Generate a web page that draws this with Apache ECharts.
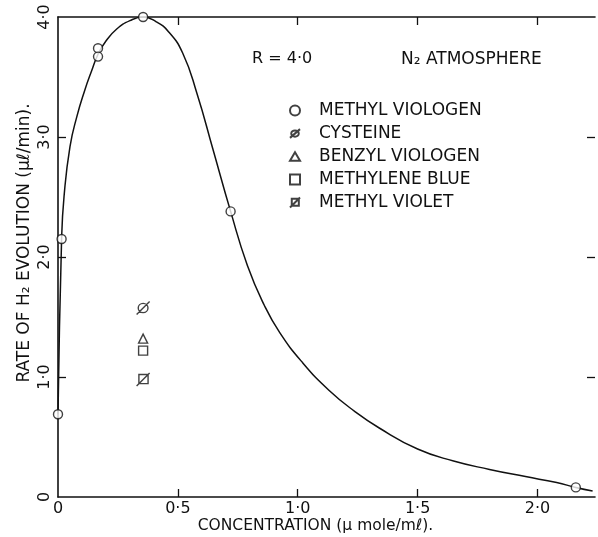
<!DOCTYPE html>
<html>
<head>
<meta charset="utf-8">
<script src="https://cdn.jsdelivr.net/npm/echarts@6/dist/echarts.min.js"></script>
<style>html,body{margin:0;padding:0;background:#fff;}#c{width:598px;height:537px;}</style>
</head>
<body>
<div id="c"></div>
<script>
// ---- data ----
var curveX = [0, 0.015, 0.025, 0.05, 0.08, 0.11, 0.14, 0.167, 0.20, 0.245, 0.30, 0.355, 0.41, 0.46, 0.52, 0.58, 0.646, 0.72, 0.79, 0.86, 0.925, 1.02, 1.13, 1.24, 1.34, 1.5, 1.65, 1.8, 1.95, 2.08, 2.16, 2.23];
var curveY = [0.69, 2.15, 2.5, 2.92, 3.18, 3.38, 3.55, 3.69, 3.8, 3.9, 3.97, 4.0, 3.96, 3.88, 3.7, 3.36, 2.9, 2.38, 1.93, 1.6, 1.37, 1.12, 0.89, 0.71, 0.575, 0.40, 0.30, 0.23, 0.17, 0.12, 0.08, 0.05];

var mvX = [0, 0.015, 0.167, 0.167, 0.355, 0.72, 2.16];
var mvY = [0.69, 2.15, 3.74, 3.67, 4.0, 2.38, 0.08];

var cysteineX = [0.355], cysteineY = [1.575];
var benzylX = [0.355], benzylY = [1.32];
var methyleneX = [0.355], methyleneY = [1.22];
var violetX = [0.355], violetY = [0.98];

var legendNames = ['METHYL VIOLOGEN', 'CYSTEINE', 'BENZYL VIOLOGEN', 'METHYLENE BLUE', 'METHYL VIOLET'];
var xTickValues = [0, 0.5, 1.0, 1.5, 2.0];
var xTickLabels = ['0', '0·5', '1·0', '1·5', '2·0'];
var yTickValues = [0, 1, 2, 3, 4];
var yTickLabels = ['0', '1·0', '2·0', '3·0', '4·0'];
var xName = 'CONCENTRATION (μ mole/mℓ).';
var yName = 'RATE OF H₂ EVOLUTION (μℓ/min).';
var noteR = 'R = 4·0';
var noteAtm = 'N₂ ATMOSPHERE';

function zip(a, b) { return a.map(function (v, i) { return [v, b[i]]; }); }
function lbl(values, labels) {
  return function (v) {
    for (var i = 0; i < values.length; i++) if (Math.abs(values[i] - v) < 1e-6) return labels[i];
    return '';
  };
}

var INK = '#111';
var FONT = 'DejaVu Sans';
var symSlashCircle = 'path://M16,10A6,5,0,1,1,4,10A6,5,0,1,1,16,10Z M2,17L18,3';
var symTriangle = 'path://M10,3L17,15L3,15Z';
var symSquare = 'path://M3,3H17V17H3Z';
var symSlashSquare = 'path://M4,4H16V16H4Z M1,19L18,2';
var markerStyle = { color: '#fff', borderColor: INK, borderWidth: 1.4 };

var chart = echarts.init(document.getElementById('c'), null, { renderer: 'canvas' });
chart.setOption({
  backgroundColor: '#fff',
  animation: false,
  textStyle: { fontFamily: FONT, color: INK },
  grid: { left: 58, right: 3, top: 17, bottom: 40, containLabel: false, outerBoundsMode: 'none' },
  legend: {
    data: legendNames,
    orient: 'vertical',
    left: 284,
    top: 97,
    itemWidth: 10,
    itemHeight: 10,
    itemGap: 6,
    selectedMode: false,
    textStyle: { fontFamily: FONT, fontSize: 17, color: INK, padding: [0, 0, 0, 14] }
  },
  xAxis: [{
    type: 'value', min: 0, max: 2.24, position: 'bottom',
    name: xName, nameLocation: 'middle', nameGap: 21, nameMoveOverlap: false,
    nameTextStyle: { fontFamily: FONT, fontSize: 15.5, color: INK, padding: [0, 22, 0, 0] },
    axisLine: { show: true, onZero: false, lineStyle: { color: INK, width: 1.6 } },
    axisTick: { show: true, inside: true, length: 8, lineStyle: { color: INK, width: 1.3 }, customValues: [0.5, 1.0, 1.5, 2.0] },
    axisLabel: { show: true, margin: 4, fontFamily: FONT, fontSize: 16, color: INK, customValues: xTickValues, formatter: lbl(xTickValues, xTickLabels) },
    splitLine: { show: false }
  }, {
    type: 'value', min: 0, max: 2.24, position: 'top',
    axisLine: { show: true, onZero: false, lineStyle: { color: INK, width: 1.6 } },
    axisTick: { show: true, inside: true, length: 8, lineStyle: { color: INK, width: 1.3 }, customValues: [0.5, 1.0, 1.5, 2.0] },
    axisLabel: { show: false },
    splitLine: { show: false }
  }],
  yAxis: [{
    type: 'value', min: 0, max: 4, position: 'left',
    name: yName, nameLocation: 'middle', nameGap: 25, nameRotate: 90, nameMoveOverlap: false,
    nameTextStyle: { fontFamily: FONT, fontSize: 17, color: INK, padding: [0, 0, 0, 28] },
    axisLine: { show: true, onZero: false, lineStyle: { color: INK, width: 1.6 } },
    axisTick: { show: true, inside: true, length: 8, lineStyle: { color: INK, width: 1.3 }, customValues: [1, 2, 3] },
    axisLabel: { show: true, rotate: 90, margin: 5, fontFamily: FONT, fontSize: 16, color: INK, customValues: yTickValues, formatter: lbl(yTickValues, yTickLabels) },
    splitLine: { show: false }
  }, {
    type: 'value', min: 0, max: 4, position: 'right',
    axisLine: { show: false, onZero: false },
    axisTick: { show: true, inside: true, length: 8, lineStyle: { color: INK, width: 1.3 }, customValues: [1, 2, 3] },
    axisLabel: { show: false },
    splitLine: { show: false }
  }],
  graphic: [
    { type: 'text', left: 252, top: 51, style: { text: noteR, font: '16px "DejaVu Sans"', fill: INK } },
    { type: 'text', left: 401, top: 51, style: { text: noteAtm, font: '17px "DejaVu Sans"', fill: INK } }
  ],
  series: [
    { type: 'line', name: 'curve', data: zip(curveX, curveY), showSymbol: false, symbol: 'none', smooth: 0.5,
      lineStyle: { color: INK, width: 1.5 }, z: 2, silent: true },
    { type: 'scatter', name: legendNames[0], data: zip(mvX, mvY), symbol: 'circle', symbolSize: 9, itemStyle: markerStyle, z: 5 },
    { type: 'scatter', name: legendNames[1], data: zip(cysteineX, cysteineY), symbol: symSlashCircle, symbolSize: 13, itemStyle: markerStyle, z: 5 },
    { type: 'scatter', name: legendNames[2], data: zip(benzylX, benzylY), symbol: symTriangle, symbolSize: 9, itemStyle: markerStyle, z: 5 },
    { type: 'scatter', name: legendNames[3], data: zip(methyleneX, methyleneY), symbol: symSquare, symbolSize: 9, itemStyle: markerStyle, z: 5 },
    { type: 'scatter', name: legendNames[4], data: zip(violetX, violetY), symbol: symSlashSquare, symbolSize: 13, itemStyle: markerStyle, z: 5 }
  ]
});
</script>
</body>
</html>
